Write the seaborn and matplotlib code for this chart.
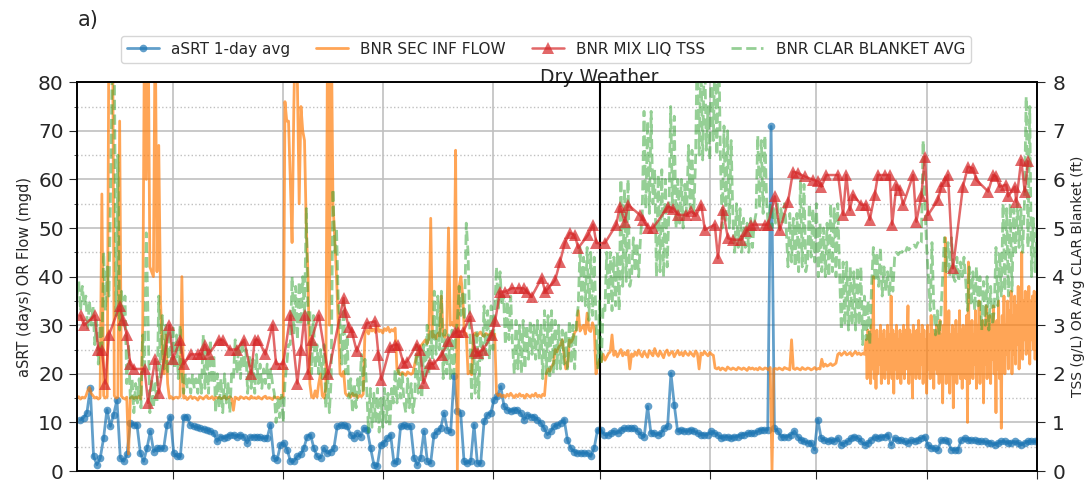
import pandas as pd
import matplotlib
matplotlib.use("Agg")
import matplotlib.pyplot as plt
import matplotlib.dates as mdates
from matplotlib.ticker import MultipleLocator, NullLocator
import seaborn as sns

sns.set_style("ticks")
plt.rcParams['font.family'] = ['DejaVu Sans']

start = pd.Timestamp("2021-12-05")
end = pd.Timestamp("2022-09-01")
dry_start = pd.Timestamp("2022-05-01")
band_start = pd.Timestamp("2022-07-15")   # flow logged more often from here

# --- aSRT 1-day avg (days), roughly daily ---
srt_vals = [
    10.5, 11, 12, 17, 3, 1.3, 2.7, 6.8, 12.6, 9.2,
    11.6, 14.6, 2.7, 2, 3.4, 9.9, 9.5, 9.5, 3.7, 2,
    4.7, 8.2, 4, 4.7, 4.7, 4.7, 9.5, 11.2, 3.7, 3,
    3, 11.2, 11.2, 9.5, 9.2, 9, 8.8, 8.7, 8.5, 8.2,
    7.8, 6.1, 7.1, 6.8, 7.1, 7.5, 7.5, 7.1, 7.5, 7.1,
    5.8, 7.1, 7.1, 7.1, 6.9, 6.8, 6.8, 9.5, 2.7, 2.3,
    5.4, 5.8, 4.4, 2, 2, 3, 3.4, 4.7, 7.1, 7.5,
    4.7, 3,
    2.7, 4.7, 3.7, 4, 4.7, 9.2, 9.5, 9.5, 9.2, 7.5,
    6.8, 7.8, 7.1, 8.8, 8.5, 4.7, 1.3, 1, 5.4, 5.8,
    6.8, 7.5, 1.6, 2, 9.2, 9.5, 9.2, 9.2, 2.7, 1.3,
    2.7, 8.2, 2, 1.6, 7.5, 8.2, 8.8, 11.9, 8.5, 8,
    19.5, 12.3, 11.9, 2, 1.6, 2, 9.5, 1.6, 1.6, 10.2,
    11.6, 11.9, 14.7, 15.4, 17.4, 13.3, 12.6, 12.3, 12.6, 12.6,
    11.9, 10.6, 11.6, 11.2, 11.2, 10.6, 9.9, 8.8, 7.5, 8.2,
    9.2, 9.5,
    9.9, 10.6, 6.4, 4.7, 4, 3.7, 3.7, 3.7, 3.7, 3, 4.7,
    8.5, 8.5, 7.5, 7.5, 7.8, 8.2, 7.8, 8.5, 8.8, 8.8, 8.8, 8.8,
    8.2, 7.5, 7.1, 13.3, 7.8, 7.8, 7.5, 7.8, 8.8, 9.2,
    20.1, 13.6,
    8.2, 8.5, 8.2, 8.2, 8.5, 8.2, 7.8, 7.5, 7.5, 7.5, 8.2, 7.8, 7.5, 6.8,
    7.1, 7.1, 6.8, 7.1, 7.1, 7.5, 7.5, 7.8, 7.8, 7.8, 8.2, 8.5, 8.5, 8.5,
    70.9,
    8.8, 8.2, 7.1, 7.1, 7.1, 7.5, 8.2, 7.1,
    6.4, 6.1, 5.8, 5.8, 4.4, 10.6, 6.8, 6.4, 6.1, 6.4,
    6.1, 6.8, 5.4, 5.8, 6.1, 6.8, 7.1, 6.8, 6.1, 5.4,
    5.8, 6.4, 7.1, 6.8, 7.1, 7.1, 7.5, 5.4, 6.8, 6.4,
    6.4, 6.1, 5.8, 6.4, 6.1, 6.4, 6.8, 7.1, 5.4, 4.7,
    4.7, 4.4, 6.4, 6.4, 6.1, 4.4, 4.4, 4.4, 6.4, 6.8,
    6.4, 6.4, 6.4, 6.1, 6.1, 6.1, 5.8, 5.8, 5.4, 5.8,
    6.1, 6.1, 5.8, 5.8, 6.1, 5.8, 5.4, 5.8, 6.1, 6.1,
    6.1, 6.1,
]

# --- BNR SEC INF FLOW (mgd), twice a day up to Jul 14, one row = 10 days ---
flow_vals = [
    15.0, 15.3, 14.8, 15.2, 15.0, 15.4, 16.5, 17.2, 16.0, 15.5, 15.0, 15.2, 14.8, 15.1, 57.0, 15.5, 15.0, 15.3, 95.0, 95.0,
    95.0, 15.5, 15.0, 15.2, 72.0, 15.4, 15.0, 14.8, 15.2, 3.5, 15.0, 15.3, 14.9, 15.2, 15.0, 15.4, 14.8, 30.0, 95.0, 60.0,
    95.0, 42.0, 41.0, 40.0, 95.0, 41.0, 67.0, 35.0, 25.0, 20.0, 28.0, 18.0, 15.0, 15.3, 14.8, 15.1, 15.2, 15.0, 15.4, 40.0,
    15.0, 15.3, 14.7, 15.1, 15.4, 14.9, 15.2, 15.0, 14.6, 15.3, 15.1, 14.8, 15.2, 15.5, 14.9, 15.0, 15.3, 14.7, 15.2, 15.0,
    15.2, 14.9, 15.0, 15.4, 14.8, 15.1, 15.3, 14.9, 12.5, 15.2, 15.0, 14.7, 15.3, 15.1, 14.9, 15.2, 15.0, 14.8, 15.4, 15.0,
    15.1, 14.9, 15.3, 15.0, 14.8, 15.2, 15.4, 14.9, 15.1, 15.0, 14.7, 15.3, 15.0, 15.2, 14.9, 15.1, 15.3, 76.0, 72.0, 72.0,
    60.0, 47.0, 75.0, 95.0, 80.0, 55.0, 75.0, 70.0, 68.0, 50.0, 40.0, 18.0, 15.2, 15.0, 16.5, 15.2, 18.0, 20.0, 15.5, 15.0,
    17.0, 95.0, 30.0, 95.0, 55.0, 48.0, 40.0, 30.0, 20.0, 19.5, 20.5, 16.0, 15.5, 15.8, 15.2, 16.0, 15.4, 15.7, 15.1, 15.6,
    15.3, 15.8, 28.5, 29.0, 28.2, 29.5, 28.8, 29.2, 28.5, 29.8, 28.7, 29.0, 28.4, 29.3, 28.9, 29.6, 28.6, 29.1, 28.8, 29.4,
    21.0, 20.2, 19.8, 20.3, 20.0, 19.7, 20.4, 20.1, 19.9, 20.2, 22.0, 23.5, 24.0, 25.5, 26.0, 26.5, 27.0, 26.2, 27.3, 52.0,
    27.5, 28.0, 27.2, 28.3, 27.8, 36.0, 28.0, 27.5, 28.2, 50.0, 30.0, 30.5, 29.8, 66.0, 0.0, 38.0, 40.0, 36.0, 28.0, 28.3,
    20.0, 20.5, 19.8, 28.0, 28.4, 27.8, 28.2, 28.6, 28.0, 27.7, 28.3, 28.1, 27.9, 28.4, 28.0, 28.2, 16.0, 15.5, 15.8, 15.3,
    15.6, 15.2, 15.8, 15.4, 16.0, 15.5, 15.1, 15.7, 15.3, 15.9, 15.4, 15.6, 15.0, 15.8, 15.5, 15.2, 15.7, 15.4, 16.0, 15.3,
    15.6, 15.2, 15.8, 15.5, 20.0, 21.0, 20.5, 21.5, 22.0, 25.0, 24.5, 25.5, 26.0, 27.0, 24.0, 21.0, 21.5, 27.0, 26.5, 27.2,
    28.5, 29.0, 33.0, 28.8, 29.5, 30.0, 28.2, 32.5, 29.0, 28.7, 30.5, 29.3, 20.0, 22.0, 23.0, 22.5, 24.0, 22.8, 23.5, 24.2,
    24.5, 28.0, 23.8, 24.6, 23.5, 24.2, 25.0, 23.7, 24.4, 23.9, 24.8, 21.0, 24.1, 23.6, 24.5, 23.8, 24.9, 24.0, 23.5, 24.6,
    24.0, 23.4, 24.8, 24.2, 23.7, 25.2, 24.1, 23.6, 24.7, 24.0, 23.3, 24.5, 24.9, 23.8, 24.3, 24.6, 23.5, 24.2, 24.8, 23.9,
    24.4, 23.7, 24.6, 24.1, 23.8, 24.5, 24.0, 23.6, 24.7, 24.2, 21.0, 24.3, 23.9, 24.6, 24.1, 23.7, 24.4, 24.0, 23.8, 21.2,
    21.0, 21.3, 20.8, 21.2, 21.0, 20.7, 21.4, 21.1, 20.9, 21.2, 21.0, 20.8, 21.3, 21.1, 20.9, 21.2, 21.0, 20.7, 21.3, 21.0,
    21.2, 20.9, 21.1, 20.8, 21.3, 21.0, 20.9, 21.2, 21.1, 20.8, 21.3, 0.0, 21.0, 21.1, 20.9, 21.2, 21.0, 20.8, 21.3, 21.1,
    21.0, 20.8, 27.0, 21.1, 20.9, 21.2, 21.0, 20.8, 21.3, 21.0, 20.9, 21.2, 21.1, 20.8, 21.0, 21.3, 20.9, 21.1, 21.0, 23.0,
    21.5, 22.0, 21.6, 21.8, 22.1, 21.7, 21.9, 22.2, 24.0, 24.3, 23.8, 24.2, 24.5, 23.9, 24.1, 24.4, 23.7, 24.2, 24.6, 24.0,
    24.3, 23.9, 24.2, 24.0,
]

# --- BNR SEC INF FLOW (mgd), every 6 hours from Jul 15, one row = 5 days ---
flow_band_vals = [
    27, 19, 29, 20, 28, 18, 30, 21, 40, 19, 28, 17, 29, 20, 27, 22, 30, 18, 28, 20,
    29, 19, 27, 21, 30, 18, 28, 20, 36, 19, 29, 16, 28, 21, 30, 19, 27, 20, 29, 18,
    28, 20, 30, 19, 29, 21, 27, 34, 18, 29, 20, 28, 15, 30, 21, 28, 19, 29, 20, 31,
    19, 28, 22, 30, 18, 29, 20, 27, 16, 30, 21, 28, 19, 32, 20, 29, 17, 28, 21, 30,
    20, 29, 18, 31, 19, 28, 14, 30, 20, 48, 18, 29, 21, 33, 16, 28, 20, 30, 13, 29,
    21, 31, 18, 28, 20, 33, 19, 29, 17, 30, 22, 28, 19, 32, 10, 43, 18, 29, 21, 31,
    19, 28, 22, 33, 17, 30, 20, 35, 18, 29, 21, 31, 14, 30, 22, 34, 19, 28, 20, 32,
    18, 30, 23, 34, 20, 29, 12, 31, 21, 35, 19, 30, 8.8, 32, 22, 36, 20, 30, 24, 35,
    21, 33, 25, 37, 20, 32, 24, 36, 22, 34, 26, 38, 21, 33, 25, 45, 23, 35, 27, 37,
    24, 34, 26, 38, 22, 35, 27, 36, 25, 37, 23, 34, 30,
]

# --- BNR CLAR BLANKET AVG (ft), twice a day, one row = 10 days ---
blanket_vals = [
    3.6, 3.9, 3.3, 3.8, 3.4, 3.6, 2.9, 3.5, 3.0, 3.4, 2.6, 3.1, 2.2, 3.0, 2.4, 4.5, 3.3, 4.2, 3.6, 6.0,
    9.0, 8.5, 3.2, 6.5, 2.9, 3.7, 3.0, 3.6, 1.8, 2.6, 1.5, 1.9, 1.2, 1.8, 1.4, 1.9, 1.3, 2.8, 2.0, 4.9,
    3.0, 1.2, 1.9, 1.3, 1.8, 1.4, 3.6, 1.9, 3.2, 2.1, 3.0, 2.0, 2.9, 2.2, 3.0, 2.1, 2.8, 1.9, 3.0, 2.0,
    1.6, 2.0, 1.7, 1.9, 1.6, 2.0, 1.7, 1.9, 1.6, 2.0, 1.6, 2.8, 1.7, 2.5, 1.6, 2.7, 1.8, 2.4, 1.2, 2.0,
    1.3, 1.9, 1.2, 2.0, 1.4, 1.8, 1.2, 2.0, 1.9, 2.7, 2.0, 2.6, 1.9, 2.7, 2.1, 2.5, 1.6, 2.4, 1.7, 2.3,
    1.6, 2.4, 1.8, 2.2, 1.7, 2.1, 1.8, 2.2, 1.7, 2.1, 1.8, 1.6, 1.0, 1.5, 1.1, 1.6, 1.0, 1.8, 2.2, 2.6,
    2.6, 4.0, 2.8, 3.8, 2.7, 3.9, 3.0, 4.0, 3.2, 5.4, 3.0, 3.3, 2.0, 3.2, 2.1, 2.6, 2.0, 2.5, 1.9, 2.6,
    1.3, 2.0, 1.2, 1.9, 5.8, 4.5, 5.0, 3.5, 3.0, 2.2, 3.5, 2.0, 2.8, 1.5, 1.9, 1.2, 1.8, 1.3, 1.9, 1.6,
    2.4, 1.6, 2.3, 1.7, 0.8, 1.7, 0.9, 1.6, 1.0, 1.7, 0.8, 1.5, 0.9, 1.7, 1.0, 1.6, 0.9, 1.7, 1.4, 2.1,
    1.4, 2.1, 1.5, 2.0, 1.4, 1.2, 1.9, 1.3, 1.8, 1.2, 1.5, 2.6, 1.6, 2.5, 1.5, 2.6, 1.9, 3.0, 2.0, 2.9,
    2.3, 3.7, 2.4, 3.6, 2.5, 3.7, 1.9, 2.9, 2.0, 2.8, 1.9, 2.9, 2.0, 2.8, 3.1, 3.8, 3.2, 3.7, 3.1, 5.1,
    4.5, 2.9, 1.5, 2.8, 1.6, 2.9, 1.5, 2.8, 2.3, 3.4, 2.4, 3.3, 2.3, 3.4, 2.5, 3.3, 4.2, 3.3, 4.1, 3.4,
    3.6, 2.6, 3.5, 2.7, 3.6, 2.6, 2.0, 3.1, 2.1, 3.0, 2.0, 3.1, 2.1, 3.0, 2.3, 3.1, 2.4, 3.0, 2.3, 3.1,
    2.3, 3.0, 1.9, 3.3, 2.0, 3.2, 1.9, 3.3, 2.0, 3.1, 2.1, 3.0, 2.1, 2.9, 2.2, 2.9, 2.1, 3.1, 2.2, 3.0,
    2.1, 3.1, 3.4, 4.6, 3.5, 4.4, 3.4, 4.6, 3.1, 4.5, 3.2, 4.4, 3.1, 2.1, 3.5, 2.2, 3.4, 3.3, 4.5, 3.4,
    4.5, 3.3, 4.4, 3.4, 4.5, 3.3, 6.0, 3.8, 5.8, 3.9, 6.0, 3.8, 4.0, 4.8, 4.1, 4.7, 4.0, 4.8, 5.3, 7.4,
    5.4, 7.2, 5.3, 7.4, 5.5, 6.2, 4.0, 6.1, 4.1, 6.2, 4.0, 6.0, 4.2, 5.3, 7.5, 5.4, 7.3, 5.0, 6.0, 5.1,
    6.0, 5.0, 5.9, 5.3, 6.7, 5.4, 6.6, 5.3, 6.4, 9.0, 6.5, 8.5, 6.4, 9.0, 6.6, 7.5, 6.4, 9.0, 6.8, 8.8,
    6.5, 9.0, 6.4, 5.0, 7.1, 5.1, 7.0, 5.0, 6.8, 5.2, 4.5, 5.5, 4.6, 5.4, 4.5, 5.2, 4.6, 5.1, 4.5, 5.2,
    4.6, 5.1, 5.3, 6.9, 5.4, 6.8, 5.3, 6.9, 5.5, 5.0, 5.5, 5.0, 5.4, 5.1, 5.5, 5.0, 5.4, 5.1, 5.5, 5.0,
    4.2, 5.3, 4.3, 5.2, 4.2, 5.3, 4.1, 6.0, 4.2, 5.9, 4.1, 4.3, 5.5, 4.4, 5.4, 4.3, 5.5, 4.0, 5.1, 4.1,
    5.0, 4.0, 5.1, 4.0, 5.5, 4.1, 5.4, 4.0, 5.5, 4.1, 2.9, 4.3, 3.0, 4.3, 2.9, 4.2, 3.0, 4.1, 2.9, 4.2,
    3.0, 4.2, 2.6, 3.6, 2.7, 3.5, 2.6, 3.8, 4.6, 3.9, 4.5, 3.8, 4.6, 3.6, 4.2, 3.7, 4.1, 3.6, 4.2, 3.7,
    4.4, 4.5, 4.45, 4.5, 4.5, 4.55, 4.5, 4.6, 4.55, 4.6, 4.6, 4.65, 4.6, 4.7, 4.65, 4.7, 6.8, 5.5, 4.6, 4.0,
    3.3, 4.7, 3.4, 2.8, 3.3, 2.8, 3.2, 4.0, 4.8, 4.1, 4.7, 4.0, 4.8, 4.0, 3.9, 4.4, 3.9, 4.3, 4.0, 4.4,
    3.9, 3.3, 4.2, 3.4, 4.1, 3.3, 4.2, 3.4, 4.0, 2.9, 3.9, 3.0, 4.0, 2.9, 3.8, 3.0, 3.3, 4.6, 3.4, 4.5,
    3.6, 5.5, 3.7, 5.4, 3.6, 5.5, 3.7, 5.4, 4.5, 5.5, 4.6, 5.4, 4.5, 5.5, 7.7, 4.6, 7.5, 4.0, 5.2, 4.1,
    5.0,
]

# --- BNR MIX LIQ TSS (g/L), grab samples: day after start, value ---
tss_day = [
    1, 2, 5, 6, 7, 8, 9, 12, 13, 14, 15, 16, 19, 20, 22, 23, 26, 27, 29, 30,
    32, 34, 35, 36, 37, 40, 41, 43, 45, 47, 49, 50, 51, 53, 55, 56, 58, 60, 62, 63,
    64, 65, 66, 68,
    70.7, 75.0, 75.4, 76.4, 77.3, 78.7, 81.5, 83.9, 84.8, 85.6, 88.1, 89.5, 90.4, 91.8, 92.8, 95.6,
    96.5, 97.5, 99.3, 100.3, 102.6, 104.5, 106.4, 107.3, 108.7, 110.6, 112.0, 112.9, 114.3, 116.7,
    117.6, 119.0, 120.4, 122.3, 124.2, 125.6, 126.5, 127.9, 130.7, 131.7, 132.6, 134.5, 135.9,
    137.2, 138.6, 140.0, 141.0, 143.8, 145.2, 146.1, 148.5, 151.7, 152.7, 154.1, 155.0, 158.3, 159.2,
    160.6, 162.0, 166.3, 167.7, 169.1, 171.4, 172.8, 174.2, 175.6, 176.6, 179.4, 180.3, 181.7, 183.1,
    184.5, 186.9, 188.3, 189.7, 190.6, 193.4, 194.4, 196.3, 197.7, 200.0, 201.4, 202.8,
    204.7, 207.1, 208.5, 209.4, 210.8, 214.1, 215.5, 216.4, 217.4, 218.3, 220.6, 222.0, 223.0, 224.4,
    225.3, 227.2, 228.6, 229.3, 230.5, 231.4, 232.4, 235.2, 236.1, 237.5, 238.5, 239.4, 242.2, 243.1,
    244.1, 245.0, 246.4, 249.2, 250.6, 252.0, 253.0, 256.3, 257.7, 258.6, 259.5, 261.4, 261.9, 263.8,
    264.2, 265.6, 266.6, 267.5,
]
tss_val = [
    3.2, 3.0, 3.2, 2.5, 2.5, 1.8, 2.8, 3.4, 3.1, 2.8, 2.2, 2.1, 2.1, 1.4, 2.3, 1.6, 3.0, 2.3, 2.7, 2.2,
    2.4, 2.4, 2.4, 2.6, 2.4, 2.7, 2.7, 2.5, 2.5, 2.7, 2.0, 2.7, 2.7, 2.4, 3.0, 2.2, 2.2, 3.2, 1.8, 2.5,
    3.2, 2.0, 2.7, 3.2,
    2.0, 3.56, 3.28, 2.97, 2.87, 2.46, 3.04, 3.08, 2.39, 1.88, 2.56, 2.6, 2.6, 2.22, 2.25, 2.6,
    2.49, 1.81, 2.22, 2.2, 2.39, 2.67, 2.87, 2.87, 2.87, 3.18, 2.46, 2.43, 2.5, 2.8,
    3.08, 3.69, 3.69, 3.76, 3.76, 3.76, 3.69, 3.59, 3.97, 3.69, 3.76, 3.93, 4.31,
    4.69, 4.9, 4.86, 4.59, 4.86, 5.07, 4.69, 4.69, 5.07, 5.44, 5.13, 5.48, 5.27, 5.17,
    5.0, 5.0, 5.44, 5.4, 5.27, 5.27, 5.34, 5.27, 5.48, 4.96, 5.07, 4.38, 5.37, 4.79,
    4.76, 4.76, 4.93, 5.07, 5.07, 5.07, 5.07, 5.65, 4.96, 5.54, 6.16, 6.13,
    6.06, 5.99, 5.96, 5.85, 6.09, 6.09, 5.27, 6.09, 5.37, 5.68, 5.48, 5.48, 5.17, 5.68,
    6.09, 6.09, 6.09, 5.07, 5.89, 5.78, 5.48, 6.09, 5.13, 5.65, 6.47, 5.27, 5.58, 5.85,
    5.96, 6.09, 4.17, 5.85, 6.26, 6.23, 5.99, 5.75, 6.09, 6.06, 5.85, 5.89, 5.65, 5.85,
    5.54, 6.4, 5.75, 6.37,
]

srt_dates = pd.date_range(start + pd.Timedelta(hours=22), end + pd.Timedelta(hours=8),
                          periods=len(srt_vals))
half_day_dates = pd.date_range(start, periods=len(blanket_vals), freq="12h")
flow_dates = pd.date_range(start, periods=len(flow_vals), freq="12h").append(
    pd.date_range(band_start, periods=len(flow_band_vals), freq="6h"))
flow_all = flow_vals + flow_band_vals
tss_dates = start + pd.to_timedelta(tss_day, unit="D")

fig = plt.figure(figsize=(10.92, 4.83), dpi=100)
ax = fig.add_axes([0.0705, 0.0248, 0.879, 0.805])
ax2 = ax.twinx()

sns.lineplot(x=srt_dates, y=srt_vals, ax=ax, color="#1f77b4", marker="o",
             markersize=5.5, markeredgewidth=0, linewidth=2, alpha=0.7,
             label="aSRT 1-day avg")
sns.lineplot(x=flow_dates, y=flow_all, ax=ax, color="#ff7f0e",
             linewidth=2, alpha=0.7, label="BNR SEC INF FLOW")
sns.lineplot(x=half_day_dates, y=blanket_vals, ax=ax2, color="#2ca02c",
             linestyle="--", linewidth=2, alpha=0.5, label="BNR CLAR BLANKET AVG")
sns.lineplot(x=tss_dates, y=tss_val, ax=ax2, color="#d62728", marker="^",
             markersize=8, markeredgewidth=0, linewidth=1.8, alpha=0.7,
             label="BNR MIX LIQ TSS")

ax.axvline(dry_start, color="black", linewidth=1.5, zorder=5)
ax.text(dry_start, 79.9, "Dry Weather", ha="center", va="baseline", fontsize=13.5)

ax.set_xlim(start, end)
ax.set_ylim(0, 80)
ax2.set_ylim(0, 8)
ax.yaxis.set_major_locator(MultipleLocator(10))
ax.yaxis.set_minor_locator(MultipleLocator(5))
ax2.yaxis.set_major_locator(MultipleLocator(1))
ax.xaxis.set_major_locator(mdates.MonthLocator())
ax.xaxis.set_minor_locator(NullLocator())
ax.tick_params(axis="x", labelbottom=False, length=6)
ax.tick_params(axis="y", labelsize=14.5, length=6)
ax2.tick_params(axis="y", labelsize=14.5, length=6, pad=5)

ax.grid(which="major", color="#c0c0c0", linewidth=1.2)
ax.grid(which="minor", axis="y", color="#c0c0c0", linestyle=":", linewidth=1)
ax2.grid(False)

ax.set_xlabel("")
ax2.set_xlabel("")
ax.set_ylabel("aSRT (days) OR Flow (mgd)", fontsize=10.5)
ax2.set_ylabel("TSS (g/L) OR Avg CLAR Blanket (ft)", fontsize=10)
for a in (ax, ax2):
    for s in a.spines.values():
        s.set_color("black")
        s.set_linewidth(1.2)

h1, l1 = ax.get_legend_handles_labels()
h2, l2 = ax2.get_legend_handles_labels()
ax.get_legend().remove()
ax2.get_legend().remove()
handles = [h1[0], h1[1], h2[1], h2[0]]
labels = [l1[0], l1[1], l2[1], l2[0]]
ax2.legend(handles, labels, loc="lower center", bbox_to_anchor=(0.4885, 1.05),
           ncol=4, fontsize=11, frameon=True, columnspacing=1.7,
           handlelength=2.1, borderaxespad=0)

fig.text(0.071, 0.958, "a)", fontsize=15, va="center")

fig.savefig("out.png", dpi=100)
